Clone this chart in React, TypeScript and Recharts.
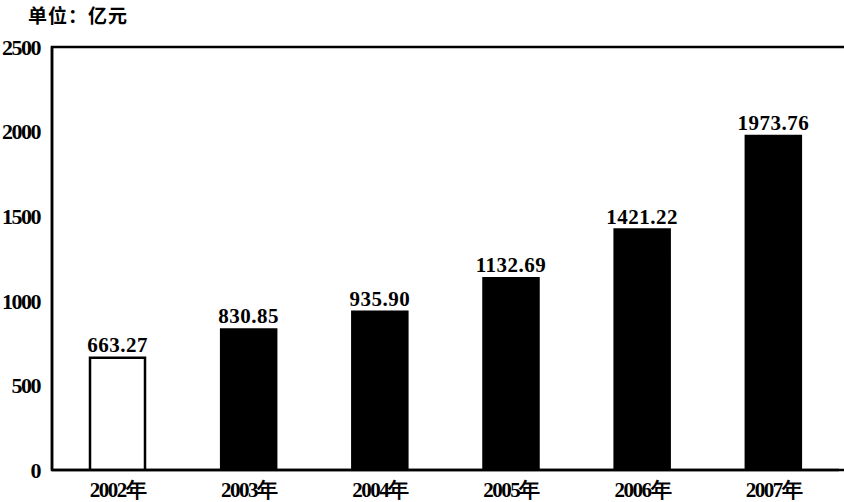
import React from 'react';
import { BarChart, Bar, XAxis, YAxis, Cell, LabelList, ReferenceArea } from 'recharts';

const years = ['2002年', '2003年', '2004年', '2005年', '2006年', '2007年'];
const values = [663.27, 830.85, 935.9, 1132.69, 1421.22, 1973.76];
const yTicks = [0, 500, 1000, 1500, 2000, 2500];
const unitLabel = '单位：亿元';

const data = years.map((y, i) => ({ year: y, value: values[i] }));

const FONT = '"Liberation Serif", "DejaVu Serif", serif';

export default function App() {
  return (
    <div style={{ position: 'absolute', left: 0, top: 0, width: 844, height: 502, background: '#fff' }}>
      <div
        style={{
          position: 'absolute',
          left: 28,
          top: 1,
          fontFamily: '"Noto Sans CJK SC", sans-serif',
          fontWeight: 700,
          fontSize: 19,
          color: '#000',
          letterSpacing: 1,
        }}
      >
        {unitLabel}
      </div>
      <BarChart width={844} height={502} data={data} margin={{ top: 47, right: 5, bottom: 2, left: 0 }} barCategoryGap={0}>
        <XAxis
          dataKey="year"
          height={30}
          axisLine={{ stroke: '#000', strokeWidth: 2.5 }}
          tickLine={false}
          tickMargin={6}
          tick={{ fill: '#000', fontFamily: FONT, fontSize: 21, fontWeight: 700, letterSpacing: -1.5 }}
          interval={0}
        />
        <XAxis xAxisId="n" type="number" domain={[0, 6]} ticks={[1, 2, 3, 4, 5]} mirror tick={false} tickSize={4} axisLine={false} tickLine={{ stroke: '#000', strokeWidth: 2 }} allowDataOverflow />
        <YAxis
          domain={[0, 2500]}
          ticks={yTicks}
          width={52}
          axisLine={{ stroke: '#000', strokeWidth: 2.5 }}
          tickLine={false}
          tickMargin={6}
          tick={{ fill: '#000', fontFamily: FONT, fontSize: 22, fontWeight: 700, letterSpacing: -1.5 }}
          allowDataOverflow
        />
        <YAxis yAxisId="t" domain={[0, 2500]} ticks={yTicks} mirror tick={false} tickSize={4} axisLine={false} tickLine={{ stroke: '#000', strokeWidth: 2 }} />
        <ReferenceArea xAxisId="n" x1={0} x2={6} y1={0} y2={2500} fill="none" stroke="#000" strokeWidth={2.5} ifOverflow="visible" />
        <Bar dataKey="value" barSize={55} isAnimationActive={false} stroke="#000" strokeWidth={2.5}>
          {data.map((d, i) => (
            <Cell key={d.year} fill={i === 0 ? '#fff' : '#000'} />
          ))}
          <LabelList
            dataKey="value"
            position="top"
            offset={6}
            formatter={(v: number) => v.toFixed(2)}
            style={{ fill: '#000', fontFamily: FONT, fontSize: 21, fontWeight: 700, letterSpacing: 0.5 }}
          />
        </Bar>
      </BarChart>
    </div>
  );
}
